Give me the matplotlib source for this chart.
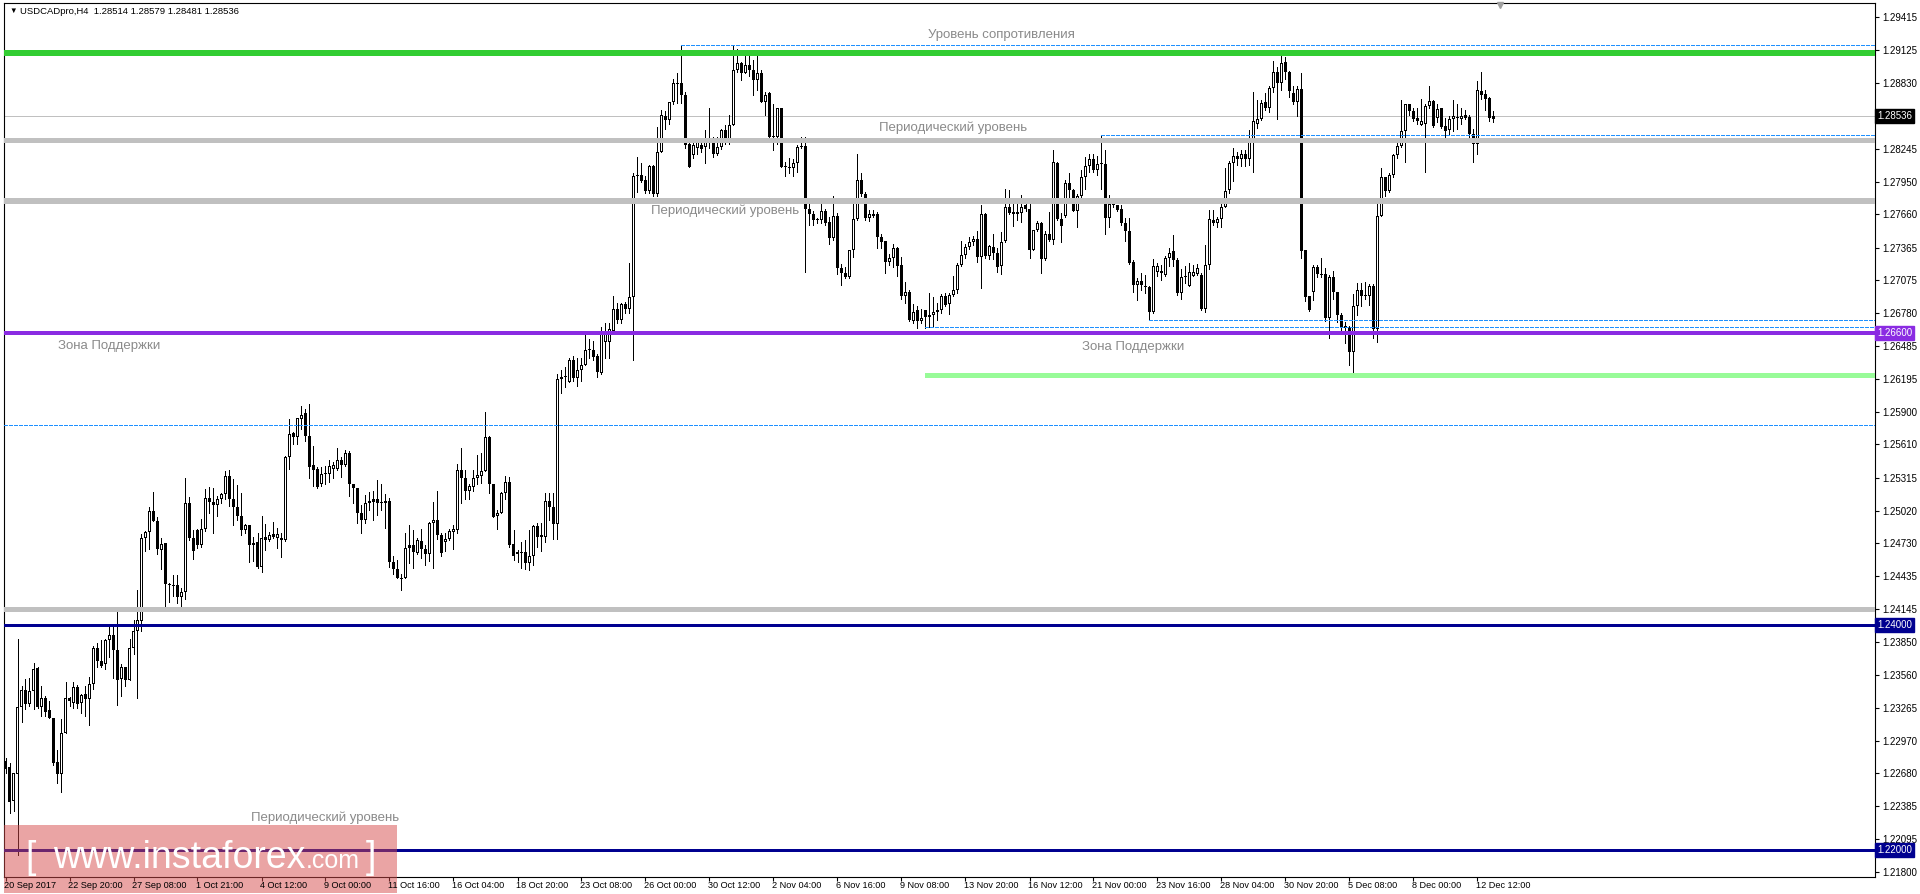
import matplotlib
matplotlib.use('Agg')
import matplotlib.pyplot as plt
from matplotlib.patches import Rectangle
from matplotlib.transforms import blended_transform_factory

# USDCAD H4 candles, 20 Sep 2017 .. 13 Dec 2017
opens = [
	1.2279, 1.2274, 1.2243, 1.2267, 1.2327, 1.2342, 1.2330, 1.2341, 1.2362, 1.2327,
	1.2335, 1.2324, 1.2317, 1.2278, 1.2267, 1.2304, 1.2335, 1.2331, 1.2345, 1.2331,
	1.2339, 1.2334, 1.2348, 1.2380, 1.2368, 1.2365, 1.2387, 1.2391, 1.2378, 1.2352,
	1.2363, 1.2351, 1.2380, 1.2395, 1.2404, 1.2478, 1.2483, 1.2502, 1.2493, 1.2467,
	1.2473, 1.2437, 1.2436, 1.2436, 1.2425, 1.2430, 1.2509, 1.2478, 1.2485, 1.2471,
	1.2486, 1.2513, 1.2510, 1.2507, 1.2512, 1.2517, 1.2533, 1.2512, 1.2505, 1.2497,
	1.2485, 1.2489, 1.2471, 1.2474, 1.2452, 1.2479, 1.2476, 1.2479, 1.2478, 1.2478,
	1.2476, 1.2550, 1.2571, 1.2568, 1.2584, 1.2589, 1.2569, 1.2543, 1.2539, 1.2526,
	1.2535, 1.2535, 1.2539, 1.2539, 1.2547, 1.2543, 1.2553, 1.2526, 1.2522, 1.2500,
	1.2494, 1.2509, 1.2512, 1.2512, 1.2510, 1.2511, 1.2511, 1.2456, 1.2450, 1.2442,
	1.2442, 1.2469, 1.2471, 1.2464, 1.2475, 1.2468, 1.2463, 1.2491, 1.2494, 1.2480,
	1.2474, 1.2477, 1.2483, 1.2485, 1.2538, 1.2531, 1.2520, 1.2523, 1.2531, 1.2533,
	1.2537, 1.2568, 1.2526, 1.2497, 1.2500, 1.2518, 1.2528, 1.2472, 1.2463, 1.2465,
	1.2465, 1.2455, 1.2462, 1.2488, 1.2480, 1.2479, 1.2511, 1.2505, 1.2490, 1.2619,
	1.2621, 1.2617, 1.2636, 1.2620, 1.2627, 1.2632, 1.2645, 1.2645, 1.2640, 1.2625,
	1.2652, 1.2652, 1.2662, 1.2682, 1.2672, 1.2686, 1.2682, 1.2692, 1.2800, 1.2801,
	1.2797, 1.2787, 1.2809, 1.2784, 1.2822, 1.2854, 1.2850, 1.2866, 1.2882, 1.2883,
	1.2872, 1.2829, 1.2819, 1.2825, 1.2828, 1.2826, 1.2833, 1.2834, 1.2820, 1.2826,
	1.2841, 1.2832, 1.2846, 1.2895, 1.2901, 1.2892, 1.2899, 1.2895, 1.2886, 1.2892,
	1.2866, 1.2874, 1.2836, 1.2835, 1.2861, 1.2808, 1.2808, 1.2807, 1.2812, 1.2826,
	1.2827, 1.2771, 1.2766, 1.2762, 1.2761, 1.2769, 1.2759, 1.2745, 1.2765, 1.2718,
	1.2714, 1.2710, 1.2734, 1.2762, 1.2797, 1.2784, 1.2763, 1.2766, 1.2766, 1.2746,
	1.2742, 1.2724, 1.2727, 1.2736, 1.2721, 1.2693, 1.2697, 1.2671, 1.2681, 1.2671,
	1.2681, 1.2676, 1.2676, 1.2679, 1.2681, 1.2693, 1.2686, 1.2694, 1.2699, 1.2721,
	1.2730, 1.2737, 1.2741, 1.2744, 1.2728, 1.2766, 1.2729, 1.2737, 1.2732, 1.2720,
	1.2742, 1.2773, 1.2768, 1.2768, 1.2767, 1.2774, 1.2771, 1.2734, 1.2752, 1.2758,
	1.2726, 1.2749, 1.2743, 1.2812, 1.2762, 1.2765, 1.2794, 1.2788, 1.2769, 1.2782,
	1.2799, 1.2809, 1.2815, 1.2806, 1.2811, 1.2811, 1.2763, 1.2775, 1.2774, 1.2771,
	1.2758, 1.2751, 1.2724, 1.2703, 1.2707, 1.2702, 1.2701, 1.2679, 1.2715, 1.2716,
	1.2712, 1.2727, 1.2733, 1.2725, 1.2696, 1.2710, 1.2702, 1.2711, 1.2713, 1.2712,
	1.2682, 1.2721, 1.2761, 1.2758, 1.2762, 1.2773, 1.2788, 1.2812, 1.2818, 1.2815,
	1.2820, 1.2815, 1.2833, 1.2847, 1.2851, 1.2866, 1.2861, 1.2879, 1.2893, 1.2883,
	1.2902, 1.2893, 1.2874, 1.2866, 1.2878, 1.2734, 1.2693, 1.2697, 1.2719, 1.2713,
	1.2713, 1.2674, 1.2710, 1.2697, 1.2676, 1.2667, 1.2665, 1.2643, 1.2684, 1.2699,
	1.2694, 1.2693, 1.2702, 1.2664, 1.2765, 1.2799, 1.2787, 1.2801, 1.2819, 1.2827,
	1.2840, 1.2864, 1.2858, 1.2852, 1.2846, 1.2847, 1.2863, 1.2867, 1.2852, 1.2861,
	1.2845, 1.2841, 1.2851, 1.2852, 1.2851, 1.2855, 1.2853, 1.2838, 1.2829, 1.2876,
	1.2873, 1.2870, 1.28514,
]

highs = [
	1.2282, 1.2277, 1.2268, 1.2388, 1.2346, 1.2352, 1.2353, 1.2366, 1.2363, 1.2346,
	1.2337, 1.2332, 1.2317, 1.2289, 1.2316, 1.2349, 1.2336, 1.2349, 1.2347, 1.2339,
	1.2346, 1.2354, 1.2381, 1.2384, 1.2387, 1.2388, 1.2399, 1.2399, 1.2412, 1.2365,
	1.2363, 1.2388, 1.2405, 1.2431, 1.2481, 1.2484, 1.2505, 1.2519, 1.2496, 1.2478,
	1.2473, 1.2438, 1.2445, 1.2445, 1.2433, 1.2531, 1.2514, 1.2485, 1.2486, 1.2495,
	1.2521, 1.2523, 1.2522, 1.2515, 1.2518, 1.2537, 1.2538, 1.2530, 1.2525, 1.2518,
	1.2490, 1.2489, 1.2479, 1.2482, 1.2497, 1.2490, 1.2483, 1.2492, 1.2487, 1.2482,
	1.2551, 1.2584, 1.2572, 1.2585, 1.2595, 1.2593, 1.2597, 1.2560, 1.2541, 1.2541,
	1.2542, 1.2547, 1.2545, 1.2558, 1.2550, 1.2556, 1.2555, 1.2526, 1.2522, 1.2507,
	1.2516, 1.2519, 1.2520, 1.2529, 1.2526, 1.2517, 1.2513, 1.2462, 1.2458, 1.2446,
	1.2482, 1.2489, 1.2485, 1.2478, 1.2486, 1.2471, 1.2492, 1.2510, 1.2520, 1.2482,
	1.2482, 1.2486, 1.2489, 1.2544, 1.2558, 1.2538, 1.2526, 1.2538, 1.2552, 1.2553,
	1.2590, 1.2569, 1.2526, 1.2503, 1.2519, 1.2533, 1.2532, 1.2485, 1.2467, 1.2474,
	1.2476, 1.2485, 1.2489, 1.2491, 1.2491, 1.2518, 1.2518, 1.2518, 1.2624, 1.2627,
	1.2630, 1.2638, 1.2640, 1.2638, 1.2638, 1.2659, 1.2655, 1.2653, 1.2642, 1.2666,
	1.2669, 1.2669, 1.2693, 1.2687, 1.2687, 1.2688, 1.2723, 1.2803, 1.2817, 1.2812,
	1.2800, 1.2810, 1.2810, 1.2844, 1.2859, 1.2858, 1.2866, 1.2887, 1.2892, 1.2917,
	1.2875, 1.2831, 1.2834, 1.2834, 1.2831, 1.2841, 1.2861, 1.2835, 1.2835, 1.2842,
	1.2846, 1.2855, 1.2916, 1.2913, 1.2902, 1.2908, 1.2910, 1.2904, 1.2911, 1.2895,
	1.2875, 1.2875, 1.2864, 1.2861, 1.2861, 1.2813, 1.2816, 1.2815, 1.2828, 1.2835,
	1.2835, 1.2780, 1.2769, 1.2763, 1.2777, 1.2771, 1.2764, 1.2782, 1.2767, 1.2722,
	1.2719, 1.2734, 1.2776, 1.2820, 1.2803, 1.2786, 1.2770, 1.2770, 1.2768, 1.2749,
	1.2742, 1.2731, 1.2740, 1.2737, 1.2728, 1.2706, 1.2699, 1.2686, 1.2684, 1.2682,
	1.2681, 1.2696, 1.2692, 1.2687, 1.2695, 1.2696, 1.2696, 1.2711, 1.2723, 1.2742,
	1.2740, 1.2746, 1.2747, 1.2751, 1.2774, 1.2767, 1.2739, 1.2749, 1.2736, 1.2750,
	1.2789, 1.2788, 1.2776, 1.2776, 1.2783, 1.2775, 1.2776, 1.2752, 1.2760, 1.2759,
	1.2751, 1.2768, 1.2823, 1.2813, 1.2767, 1.2797, 1.2803, 1.2789, 1.2784, 1.2806,
	1.2817, 1.2820, 1.2820, 1.2818, 1.2837, 1.2823, 1.2783, 1.2775, 1.2774, 1.2774,
	1.2763, 1.2763, 1.2725, 1.2709, 1.2714, 1.2712, 1.2702, 1.2726, 1.2723, 1.2721,
	1.2729, 1.2736, 1.2748, 1.2727, 1.2717, 1.2720, 1.2723, 1.2721, 1.2722, 1.2714,
	1.2739, 1.2770, 1.2770, 1.2764, 1.2776, 1.2807, 1.2814, 1.2825, 1.2822, 1.2823,
	1.2823, 1.2841, 1.2875, 1.2868, 1.2868, 1.2874, 1.2880, 1.2903, 1.2897, 1.2910,
	1.2906, 1.2894, 1.2880, 1.2880, 1.2892, 1.2734, 1.2693, 1.2721, 1.2721, 1.2727,
	1.2718, 1.2712, 1.2716, 1.2697, 1.2678, 1.2670, 1.2667, 1.2695, 1.2705, 1.2705,
	1.2706, 1.2704, 1.2704, 1.2776, 1.2807, 1.2799, 1.2803, 1.2820, 1.2834, 1.2868,
	1.2864, 1.2864, 1.2861, 1.2861, 1.2869, 1.2864, 1.2880, 1.2868, 1.2864, 1.2861,
	1.2852, 1.2854, 1.2868, 1.2864, 1.2861, 1.2859, 1.2855, 1.2842, 1.2885, 1.2893,
	1.2877, 1.2871, 1.28579,
]

lows = [
	1.2268, 1.2233, 1.2234, 1.2195, 1.2314, 1.2325, 1.2328, 1.2325, 1.2326, 1.2319,
	1.2319, 1.2317, 1.2275, 1.2259, 1.2251, 1.2304, 1.2328, 1.2326, 1.2326, 1.2322,
	1.2319, 1.2311, 1.2343, 1.2363, 1.2363, 1.2361, 1.2372, 1.2353, 1.2329, 1.2337,
	1.2346, 1.2351, 1.2374, 1.2335, 1.2395, 1.2466, 1.2468, 1.2493, 1.2463, 1.2450,
	1.2415, 1.2421, 1.2426, 1.2420, 1.2415, 1.2423, 1.2476, 1.2459, 1.2469, 1.2470,
	1.2484, 1.2500, 1.2482, 1.2497, 1.2509, 1.2512, 1.2506, 1.2489, 1.2494, 1.2480,
	1.2482, 1.2456, 1.2457, 1.2451, 1.2447, 1.2467, 1.2475, 1.2478, 1.2469, 1.2461,
	1.2475, 1.2539, 1.2561, 1.2561, 1.2575, 1.2564, 1.2531, 1.2524, 1.2522, 1.2524,
	1.2526, 1.2528, 1.2531, 1.2538, 1.2532, 1.2542, 1.2515, 1.2509, 1.2491, 1.2482,
	1.2491, 1.2503, 1.2494, 1.2498, 1.2503, 1.2487, 1.2452, 1.2446, 1.2442, 1.2431,
	1.2442, 1.2455, 1.2451, 1.2463, 1.2460, 1.2454, 1.2457, 1.2451, 1.2477, 1.2462,
	1.2466, 1.2476, 1.2468, 1.2482, 1.2509, 1.2512, 1.2512, 1.2520, 1.2526, 1.2527,
	1.2537, 1.2518, 1.2496, 1.2486, 1.2500, 1.2512, 1.2470, 1.2458, 1.2456, 1.2451,
	1.2450, 1.2449, 1.2454, 1.2470, 1.2466, 1.2474, 1.2494, 1.2477, 1.2477, 1.2607,
	1.2612, 1.2617, 1.2618, 1.2613, 1.2618, 1.2632, 1.2638, 1.2636, 1.2621, 1.2624,
	1.2638, 1.2638, 1.2662, 1.2669, 1.2669, 1.2678, 1.2678, 1.2636, 1.2786, 1.2795,
	1.2785, 1.2785, 1.2782, 1.2782, 1.2822, 1.2842, 1.2847, 1.2864, 1.2865, 1.2865,
	1.2825, 1.2808, 1.2816, 1.2820, 1.2822, 1.2812, 1.2825, 1.2817, 1.2819, 1.2824,
	1.2829, 1.2829, 1.2846, 1.2893, 1.2886, 1.2892, 1.2889, 1.2872, 1.2877, 1.2866,
	1.2855, 1.2831, 1.2823, 1.2829, 1.2808, 1.2800, 1.2803, 1.2800, 1.2804, 1.2825,
	1.2715, 1.2757, 1.2757, 1.2758, 1.2758, 1.2757, 1.2740, 1.2743, 1.2713, 1.2703,
	1.2709, 1.2709, 1.2728, 1.2761, 1.2782, 1.2761, 1.2760, 1.2764, 1.2736, 1.2736,
	1.2714, 1.2721, 1.2719, 1.2711, 1.2691, 1.2687, 1.2671, 1.2669, 1.2665, 1.2669,
	1.2665, 1.2666, 1.2666, 1.2672, 1.2678, 1.2684, 1.2677, 1.2693, 1.2696, 1.2720,
	1.2727, 1.2735, 1.2739, 1.2724, 1.2700, 1.2727, 1.2726, 1.2726, 1.2715, 1.2713,
	1.2741, 1.2766, 1.2756, 1.2761, 1.2759, 1.2769, 1.2727, 1.2734, 1.2751, 1.2714,
	1.2725, 1.2742, 1.2740, 1.2761, 1.2741, 1.2764, 1.2779, 1.2769, 1.2755, 1.2779,
	1.2789, 1.2804, 1.2804, 1.2801, 1.2789, 1.2749, 1.2755, 1.2773, 1.2769, 1.2757,
	1.2742, 1.2722, 1.2697, 1.2690, 1.2699, 1.2696, 1.2672, 1.2678, 1.2711, 1.2708,
	1.2711, 1.2720, 1.2720, 1.2694, 1.2691, 1.2705, 1.2702, 1.2711, 1.2712, 1.2681,
	1.2679, 1.2717, 1.2757, 1.2755, 1.2755, 1.2773, 1.2785, 1.2796, 1.2810, 1.2809,
	1.2809, 1.2810, 1.2804, 1.2843, 1.2850, 1.2859, 1.2857, 1.2875, 1.2851, 1.2877,
	1.2887, 1.2871, 1.2864, 1.2854, 1.2727, 1.2689, 1.2680, 1.2690, 1.2710, 1.2710,
	1.2671, 1.2656, 1.2691, 1.2670, 1.2663, 1.2651, 1.2632, 1.2623, 1.2676, 1.2684,
	1.2691, 1.2685, 1.2656, 1.2652, 1.2765, 1.2782, 1.2786, 1.2799, 1.2816, 1.2826,
	1.2813, 1.2855, 1.2849, 1.2847, 1.2846, 1.2804, 1.2861, 1.2844, 1.2848, 1.2843,
	1.2831, 1.2837, 1.2840, 1.2842, 1.2847, 1.2851, 1.2832, 1.2813, 1.2820, 1.2869,
	1.2859, 1.2849, 1.28481,
]

closes = [
	1.2272, 1.2242, 1.2268, 1.2327, 1.2342, 1.2330, 1.2341, 1.2361, 1.2327, 1.2335,
	1.2323, 1.2317, 1.2277, 1.2267, 1.2304, 1.2335, 1.2332, 1.2345, 1.2330, 1.2338,
	1.2334, 1.2348, 1.2380, 1.2368, 1.2364, 1.2387, 1.2391, 1.2378, 1.2351, 1.2363,
	1.2351, 1.2380, 1.2395, 1.2405, 1.2478, 1.2483, 1.2502, 1.2493, 1.2468, 1.2472,
	1.2437, 1.2436, 1.2435, 1.2425, 1.2430, 1.2509, 1.2478, 1.2466, 1.2471, 1.2486,
	1.2513, 1.2510, 1.2507, 1.2512, 1.2517, 1.2533, 1.2512, 1.2505, 1.2497, 1.2485,
	1.2489, 1.2471, 1.2473, 1.2452, 1.2478, 1.2476, 1.2480, 1.2481, 1.2481, 1.2476,
	1.2550, 1.2570, 1.2568, 1.2585, 1.2587, 1.2569, 1.2541, 1.2538, 1.2523, 1.2535,
	1.2536, 1.2542, 1.2543, 1.2547, 1.2543, 1.2553, 1.2526, 1.2522, 1.2500, 1.2494,
	1.2509, 1.2511, 1.2510, 1.2509, 1.2509, 1.2509, 1.2456, 1.2450, 1.2442, 1.2441,
	1.2469, 1.2471, 1.2465, 1.2476, 1.2468, 1.2463, 1.2491, 1.2494, 1.2480, 1.2464,
	1.2477, 1.2484, 1.2486, 1.2538, 1.2531, 1.2520, 1.2524, 1.2531, 1.2534, 1.2537,
	1.2568, 1.2526, 1.2496, 1.2500, 1.2518, 1.2528, 1.2471, 1.2462, 1.2465, 1.2464,
	1.2455, 1.2462, 1.2488, 1.2479, 1.2479, 1.2511, 1.2505, 1.2490, 1.2619, 1.2621,
	1.2621, 1.2636, 1.2620, 1.2627, 1.2632, 1.2645, 1.2645, 1.2639, 1.2626, 1.2662,
	1.2662, 1.2664, 1.2682, 1.2672, 1.2686, 1.2682, 1.2692, 1.2800, 1.2801, 1.2796,
	1.2787, 1.2809, 1.2784, 1.2822, 1.2855, 1.2850, 1.2866, 1.2883, 1.2883, 1.2872,
	1.2828, 1.2808, 1.2828, 1.2832, 1.2824, 1.2833, 1.2834, 1.2820, 1.2826, 1.2841,
	1.2832, 1.2846, 1.2895, 1.2901, 1.2892, 1.2899, 1.2895, 1.2886, 1.2892, 1.2866,
	1.2872, 1.2835, 1.2835, 1.2861, 1.2808, 1.2808, 1.2807, 1.2812, 1.2826, 1.2827,
	1.2771, 1.2766, 1.2761, 1.2761, 1.2769, 1.2758, 1.2745, 1.2765, 1.2718, 1.2714,
	1.2710, 1.2734, 1.2762, 1.2797, 1.2784, 1.2763, 1.2766, 1.2765, 1.2746, 1.2741,
	1.2724, 1.2727, 1.2736, 1.2720, 1.2693, 1.2697, 1.2672, 1.2679, 1.2671, 1.2674,
	1.2675, 1.2675, 1.2679, 1.2681, 1.2693, 1.2685, 1.2694, 1.2699, 1.2721, 1.2730,
	1.2737, 1.2741, 1.2744, 1.2728, 1.2766, 1.2729, 1.2738, 1.2732, 1.2719, 1.2741,
	1.2773, 1.2767, 1.2766, 1.2766, 1.2773, 1.2771, 1.2734, 1.2752, 1.2758, 1.2726,
	1.2749, 1.2743, 1.2813, 1.2762, 1.2756, 1.2794, 1.2788, 1.2769, 1.2782, 1.2799,
	1.2809, 1.2815, 1.2806, 1.2811, 1.2812, 1.2763, 1.2775, 1.2774, 1.2770, 1.2758,
	1.2751, 1.2723, 1.2703, 1.2707, 1.2703, 1.2701, 1.2679, 1.2720, 1.2720, 1.2714,
	1.2727, 1.2732, 1.2725, 1.2696, 1.2710, 1.2711, 1.2715, 1.2715, 1.2718, 1.2682,
	1.2721, 1.2762, 1.2758, 1.2762, 1.2773, 1.2787, 1.2812, 1.2818, 1.2815, 1.2820,
	1.2815, 1.2833, 1.2849, 1.2851, 1.2865, 1.2861, 1.2879, 1.2893, 1.2883, 1.2901,
	1.2893, 1.2876, 1.2866, 1.2878, 1.2733, 1.2692, 1.2681, 1.2719, 1.2713, 1.2712,
	1.2674, 1.2710, 1.2697, 1.2676, 1.2666, 1.2665, 1.2643, 1.2684, 1.2699, 1.2693,
	1.2693, 1.2702, 1.2664, 1.2765, 1.2799, 1.2787, 1.2801, 1.2819, 1.2827, 1.2840,
	1.2864, 1.2858, 1.2851, 1.2849, 1.2849, 1.2863, 1.2867, 1.2845, 1.2860, 1.2844,
	1.2840, 1.2851, 1.2854, 1.2853, 1.2854, 1.2852, 1.2838, 1.2829, 1.2877, 1.2872,
	1.2869, 1.2852, 1.28536,
]

time_labels = [
	'20 Sep 2017', '22 Sep 20:00', '27 Sep 08:00', '1 Oct 21:00', '4 Oct 12:00',
	'9 Oct 00:00', '11 Oct 16:00', '16 Oct 04:00', '18 Oct 20:00', '23 Oct 08:00',
	'26 Oct 00:00', '30 Oct 12:00', '2 Nov 04:00', '6 Nov 16:00', '9 Nov 08:00',
	'13 Nov 20:00', '16 Nov 12:00', '21 Nov 00:00', '23 Nov 16:00', '28 Nov 04:00',
	'30 Nov 20:00', '5 Dec 08:00', '8 Dec 00:00', '12 Dec 12:00',
]
bars_per_label = 16

price_ticks = [
	1.29415, 1.29125, 1.28830, 1.28245, 1.27950, 1.27660, 1.27365, 1.27075,
	1.26780, 1.26485, 1.26195, 1.25900, 1.25610, 1.25315, 1.25020, 1.24730,
	1.24435, 1.24145, 1.23850, 1.23560, 1.23265, 1.22970, 1.22680, 1.22385,
	1.22095, 1.21800,
]

# horizontal objects: (price, first bar or None for full width)
resistance = 1.2910
periodic_levels = [1.2832, 1.2778, 1.2414]
support_zone = 1.2660
round_levels = [1.2400, 1.2200]
support_low = (1.2623, 230)
dashed_levels = [(1.2917, 169), (1.2837, 274), (1.26657, 230), (1.26719, 286), (1.2578, None)]
last_price = 1.28536

W, H = 1920, 894
PLOT_W, PLOT_H = 1871, 874
X_MIN = -0.375
X_MAX = X_MIN + PLOT_W / 4
Y_MIN, Y_MAX = 1.21756, 1.29544
ONE_PX = (Y_MAX - Y_MIN) / PLOT_H
TEXT_GREY = '#8a8a8a'

plt.rcParams['font.family'] = ['Liberation Sans', 'DejaVu Sans']


def fx(px):
	return px / W


def fy(py):
	return 1 - py / H


def _hline(ax, price, start, **kw):
	x0 = X_MIN if start is None else start
	ax.hlines(price, x0, X_MAX, antialiased=False, **kw)


def draw_candles(ax):
	assert len(opens) == len(highs) == len(lows) == len(closes)
	x = list(range(len(opens)))
	ax.vlines(x, lows, highs, colors='black', linewidth=0.72, antialiased=False, zorder=2)
	bottoms = [min(o, c) for o, c in zip(opens, closes)]
	heights = [max(abs(c - o), ONE_PX) for o, c in zip(opens, closes)]
	# 3 px black body; bullish candles get a 1 px white core
	ax.bar(x, heights, width=0.75, bottom=bottoms, color='black', linewidth=0,
		antialiased=False, zorder=3)
	up = [i for i in x if closes[i] >= opens[i] and heights[i] > 2.5 * ONE_PX]
	ax.bar(up, [heights[i] - 2 * ONE_PX for i in up], width=0.25,
		bottom=[bottoms[i] + ONE_PX for i in up], color='white', linewidth=0,
		antialiased=False, zorder=3.5)


def draw_levels(ax):
	_hline(ax, last_price, None, colors='#c0c0c0', linewidth=0.72, zorder=1)
	_hline(ax, resistance, None, colors='#32cd32', linewidth=4.0, zorder=4)
	for p, lw in zip(periodic_levels, [2.4, 4.3, 3.6]):
		_hline(ax, p, None, colors='#c0c0c0', linewidth=lw, zorder=4)
	_hline(ax, support_zone, None, colors='#8a2be2', linewidth=2.7, zorder=4)
	for p in round_levels:
		_hline(ax, p, None, colors='#000090', linewidth=2.0, zorder=4)
	_hline(ax, support_low[0], support_low[1], colors='#98fb98', linewidth=2.4, zorder=4)
	for p, start in dashed_levels:
		_hline(ax, p, start, colors='#1e90ff', linewidth=0.72,
			linestyles=(0, (3.0, 2.0)), zorder=4)


def draw_notes(ax):
	notes = [
		(249, 1.29259, 'Уровень сопротивления'),
		(237, 1.28430, 'Периодический уровень'),
		(180, 1.27690, 'Периодический уровень'),
		(26, 1.26488, 'Зона Поддержки'),
		(282, 1.26479, 'Зона Поддержки'),
		(80, 1.22282, 'Периодический уровень'),
	]
	for x, y, s in notes:
		ax.text(x, y, s, ha='center', va='center', color=TEXT_GREY, fontsize=9.5, zorder=5)


def draw_axes_text(ax):
	# time scale
	ticks = [i * bars_per_label for i in range(len(time_labels))]
	ax.set_xticks(ticks)
	ax.set_xticklabels([])
	ax.tick_params(axis='x', direction='out', length=3, width=0.8, color='black')
	trans = blended_transform_factory(ax.transData, fig.transFigure)
	for t, s in zip(ticks, time_labels):
		ax.text(t - 0.3, fy(886), s, transform=trans, ha='left', va='center',
			fontsize=6.6, color='black', zorder=11, clip_on=False)

	# price scale
	ax.yaxis.tick_right()
	ax.set_yticks(price_ticks)
	ax.set_yticklabels(['%.5f' % p for p in price_ticks])
	ax.tick_params(axis='y', direction='out', length=3, width=0.8, pad=2, labelsize=7, colors='black')
	boxes = [(last_price, 'black'), (support_zone, '#8a2be2'), (1.24000, '#000090'), (1.22000, '#000090')]
	for p, c in boxes:
		ax.text(1.0 + 2.0 / PLOT_W, p, '%.5f' % p, transform=ax.get_yaxis_transform(),
			ha='left', va='center', fontsize=7, color='white', zorder=6, clip_on=False,
			bbox=dict(boxstyle='square,pad=0.2', fc=c, ec=c))

	# small shift marker at the top
	ax.plot([373.75], [1.29522], marker='v', ms=5, color='#a0a0a0', mec='#a0a0a0',
		clip_on=False, zorder=6)


def draw_watermark(ax):
	rect = Rectangle((fx(4), fy(893)), fx(393), 68 / H, transform=fig.transFigure,
		facecolor=(215 / 255, 75 / 255, 75 / 255), alpha=0.5, edgecolor='none',
		zorder=10, clip_on=False)
	ax.add_artist(rect)
	for x, s, size in [(25, '[', 27), (53, 'www.instaforex', 27), (306, '.com', 18), (366, ']', 27)]:
		ax.text(fx(x), fy(868), s, transform=fig.transFigure, ha='left', va='baseline',
			color='white', fontsize=size, zorder=12, clip_on=False)


fig = plt.figure(figsize=(W / 100, H / 100), dpi=100)
ax = fig.add_axes([fx(4), 1 - 877 / H, PLOT_W / W, PLOT_H / H])

draw_candles(ax)
draw_levels(ax)
draw_notes(ax)
draw_axes_text(ax)
draw_watermark(ax)

for sp in ax.spines.values():
	sp.set_color('black')
	sp.set_linewidth(0.8)

fig.text(fx(9), fy(11), '▼', fontsize=5.5, va='center', ha='left', color='black')
fig.text(fx(20), fy(11), 'USDCADpro,H4  1.28514 1.28579 1.28481 1.28536',
	fontsize=6.8, va='center', ha='left', color='black')

ax.set_xlim(X_MIN, X_MAX)
ax.set_ylim(Y_MIN, Y_MAX)

fig.savefig('out.png', dpi=100, facecolor='white')
